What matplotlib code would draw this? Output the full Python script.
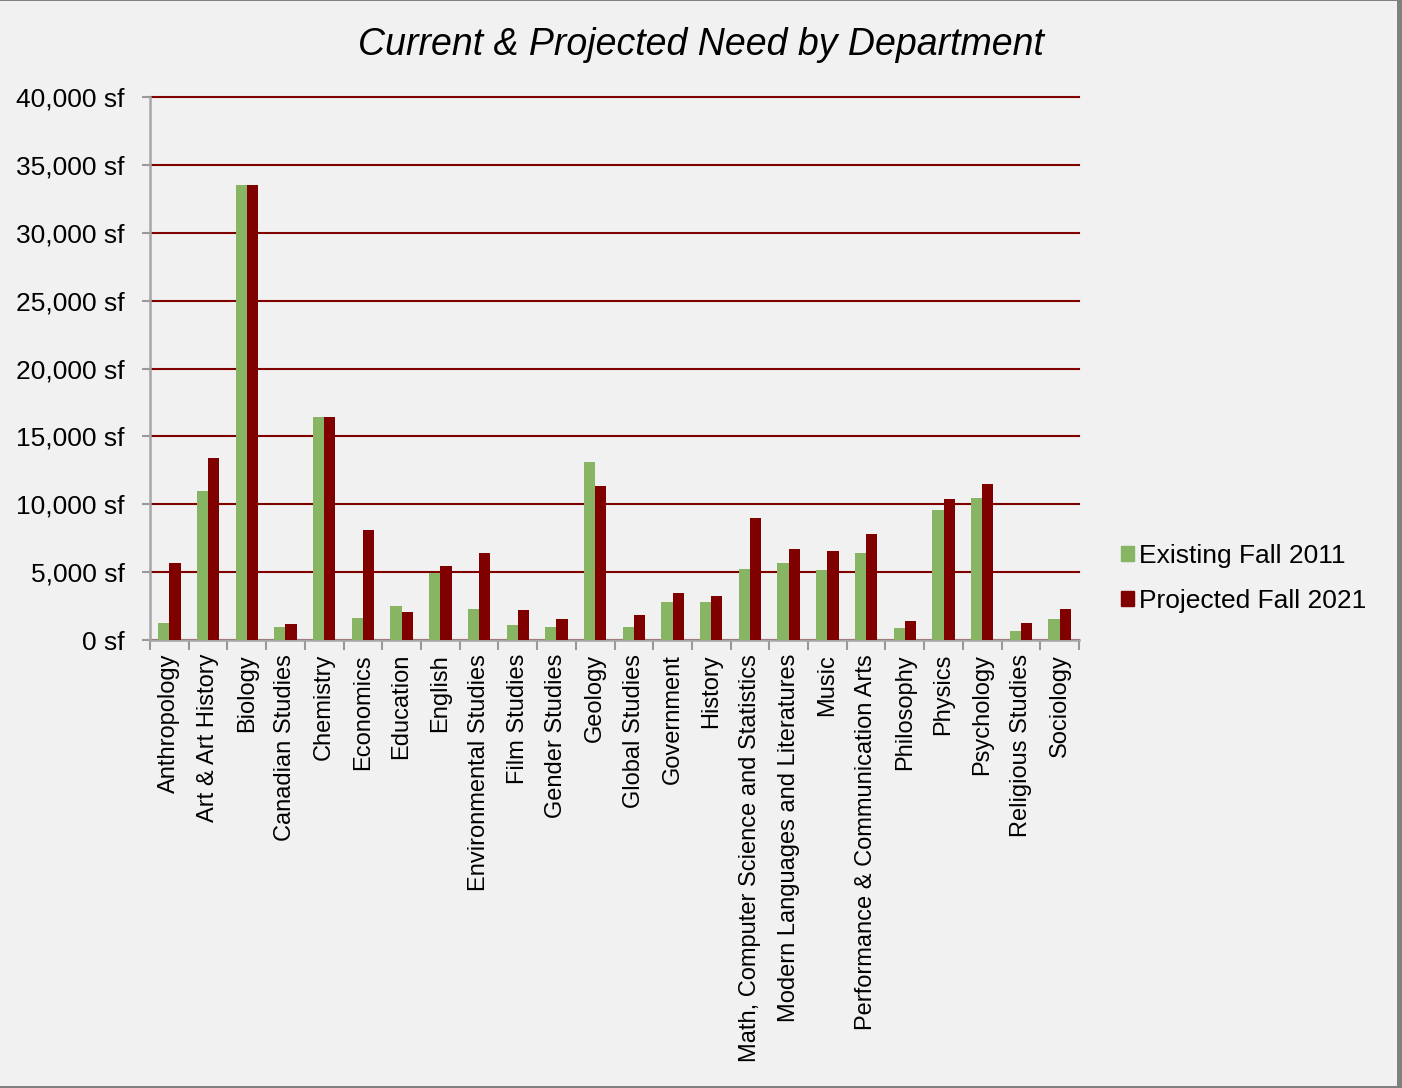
import numpy as np
import matplotlib.pyplot as plt
from matplotlib.patches import Patch, Rectangle

plt.rcParams['font.family'] = ['Liberation Sans', 'DejaVu Sans']

departments = ["Anthropology", "Art & Art History", "Biology", "Canadian Studies",
               "Chemistry", "Economics", "Education", "English",
               "Environmental Studies", "Film Studies", "Gender Studies", "Geology",
               "Global Studies", "Government", "History",
               "Math, Computer Science and Statistics",
               "Modern Languages and Literatures", "Music",
               "Performance & Communication Arts", "Philosophy", "Physics",
               "Psychology", "Religious Studies", "Sociology"]
existing_2011 = [1250, 11000, 33500, 960, 16400, 1630, 2520, 4960,
                 2300, 1110, 960, 13100, 960, 2810, 2810, 5260,
                 5700, 5190, 6440, 890, 9560, 10440, 670, 1560]
projected_2021 = [5700, 13400, 33500, 1200, 16400, 8070, 2070, 5480,
                  6440, 2220, 1560, 11330, 1850, 3480, 3260, 8960,
                  6740, 6590, 7780, 1410, 10370, 11480, 1260, 2300]
y_ticks = [0, 5000, 10000, 15000, 20000, 25000, 30000, 35000, 40000]

green = "#87B564"
maroon = "#800000"
bg = "#F1F1F1"
edge = "#808080"

W, H = 1402, 1088
fig = plt.figure(figsize=(W/100, H/100), dpi=100, facecolor=bg)
ax = fig.add_axes([150/W, 1-640/H, 929/W, 543/H])
ax.set_facecolor(bg)

x = np.arange(len(departments))
w = 0.29
ax.bar(x - w/2, existing_2011, w, color=green, label="Existing Fall 2011", zorder=3)
ax.bar(x + w/2, projected_2021, w, color=maroon, label="Projected Fall 2021", zorder=3)

ax.set_xlim(-0.5, len(departments) - 0.5)
ax.set_ylim(0, 40000)
ax.set_yticks(y_ticks)
ax.set_yticklabels([f"{v:,} sf" for v in y_ticks], fontsize=19)
ax.yaxis.grid(True, color=maroon, lw=1.5, zorder=1)
for gl in ax.get_ygridlines():
    gl.set_clip_on(False)
ax.set_axisbelow(True)

ax.set_xticks(x)
ax.set_xticklabels(departments, rotation=90, fontsize=17)
ax.set_xticks(np.arange(len(departments) + 1) - 0.5, minor=True)
ax.tick_params(axis='x', which='major', length=0, pad=10)
ax.tick_params(axis='x', which='minor', length=7, width=1.5, color="#999999")
ax.tick_params(axis='y', length=6, width=1.5, color="#999999", pad=12)

for s in ['top', 'right']:
    ax.spines[s].set_visible(False)
for s in ['left', 'bottom']:
    ax.spines[s].set_color("#A6A6A6")
    ax.spines[s].set_linewidth(1.8)

fig.text(0.5, 1-45/H, "Current & Projected Need by Department",
         ha='center', va='center', fontsize=27, style='italic')

handles = [Patch(color=green, label="Existing Fall 2011"),
           Patch(color=maroon, label="Projected Fall 2021")]
fig.legend(handles=handles, loc='center left', bbox_to_anchor=(1121/W, 1-578.5/H),
           frameon=False, fontsize=19, handlelength=0.5, handleheight=0.5,
           handletextpad=0.2, labelspacing=0.8, borderpad=0, borderaxespad=0)

# frame edges: thin top, thicker right and bottom
for (x0, y0, bw, bh) in [(0, H-1, W, 1), (1397, 0, 5, H), (0, 0, W, 2)]:
    fig.patches.append(Rectangle((x0/W, y0/H), bw/W, bh/H, transform=fig.transFigure,
                                 color=edge, lw=0))

fig.savefig("out.png", dpi=100, facecolor=bg)
